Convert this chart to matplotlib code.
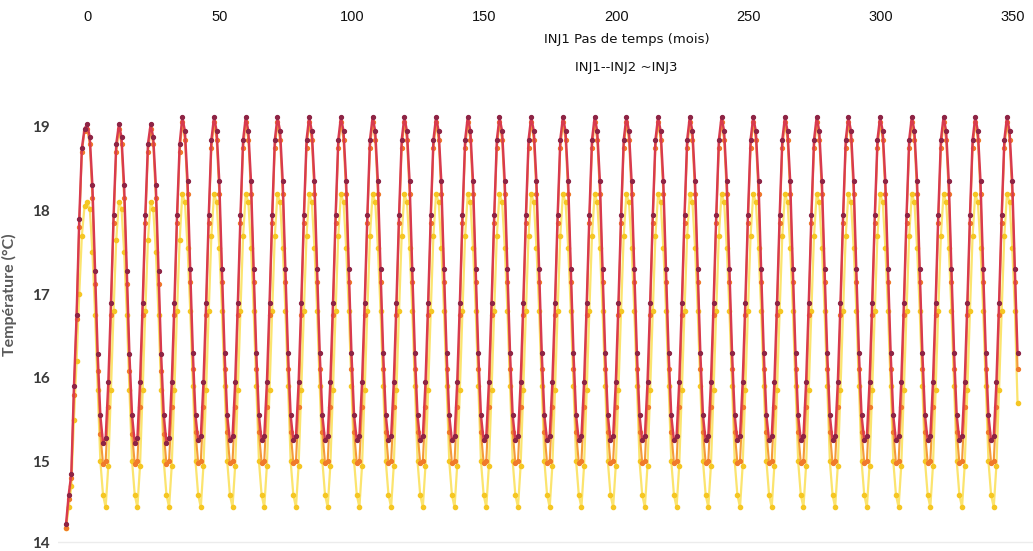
import numpy as np
import matplotlib.pyplot as plt
import matplotlib.transforms as mtransforms

# ---- data (monthly temperatures, °C) ----
start_month = -8.3          # first simulated point lies before tick 0 in the reference
tick_months = [0, 50, 100, 150, 200, 250, 300, 350]
y_ticks = [14, 15, 16, 17, 18, 19]

ramp_inj1 = [14.25, 14.6, 14.85, 15.9, 16.75, 17.9, 18.75, 18.98]
ramp_inj2 = [14.2, 14.55, 14.8, 15.8, 16.7, 17.8, 18.7, 18.95]
ramp_inj3 = [14.2, 14.45, 14.7, 15.5, 16.2, 17.0, 17.7, 18.05]

early_cycle_inj1 = [19.03, 18.88, 18.3, 17.28, 16.28, 15.55, 15.22, 15.28, 15.95, 16.9, 17.95, 18.8]
early_cycle_inj2 = [18.98, 18.8, 18.15, 17.12, 16.08, 15.33, 14.97, 15.0, 15.65, 16.75, 17.85, 18.7]
early_cycle_inj3 = [18.1, 18.02, 17.5, 16.75, 15.85, 15.0, 14.6, 14.45, 14.95, 15.85, 16.8, 17.65]

cycle_inj1 = [19.12, 18.95, 18.35, 17.3, 16.3, 15.55, 15.25, 15.3, 15.95, 16.9, 17.95, 18.85]
cycle_inj2 = [19.06, 18.85, 18.2, 17.15, 16.1, 15.35, 14.98, 15.0, 15.65, 16.75, 17.85, 18.75]
cycle_inj3 = [18.2, 18.1, 17.55, 16.8, 15.9, 15.0, 14.6, 14.45, 14.95, 15.85, 16.8, 17.7]

tail_inj1 = [19.12, 18.95, 18.35, 17.3, 16.3]
tail_inj2 = [19.06, 18.85, 18.2, 17.15, 16.1]
tail_inj3 = [18.2, 18.1, 17.55, 16.8, 15.7]

n_early_cycles = 3
n_steady_cycles = 26

inj1 = ramp_inj1 + early_cycle_inj1 * n_early_cycles + cycle_inj1 * n_steady_cycles + tail_inj1
inj2 = ramp_inj2 + early_cycle_inj2 * n_early_cycles + cycle_inj2 * n_steady_cycles + tail_inj2
inj3 = ramp_inj3 + early_cycle_inj3 * n_early_cycles + cycle_inj3 * n_steady_cycles + tail_inj3
months = start_month + np.arange(len(inj1))

# ---- figure ----
fig = plt.figure(figsize=(10.33, 5.51), dpi=100)
ax = fig.add_axes([0.0561, 0.0033, 0.9439, 0.8118])

ax.plot(months, inj3, color='#fbe46e', lw=1.6, marker='o', ms=3.0,
        mfc='#f5c623', mec='#f5c623', zorder=2)
ax.plot(months, inj2, color='#f39a3a', lw=1.5, marker='o', ms=2.8,
        mfc='#f07a2a', mec='#f07a2a', zorder=3)
ax.plot(months, inj1, color='#d83a4e', lw=1.7, marker='o', ms=2.8,
        mfc='#8e2445', mec='#8e2445', zorder=4)

ax.axhline(14.04, color='#ececec', lw=1.0, zorder=1)

ax.set_xlim(-11.35, 357.55)
ax.set_ylim(13.95, 19.3)

for s in ax.spines.values():
    s.set_visible(False)

ax.xaxis.tick_top()
ax.set_xticks(tick_months)
ax.set_xticklabels([str(t) for t in tick_months], family='Liberation Sans', fontsize=10.5, color='#111111')
ax.tick_params(axis='x', length=0, pad=56)

ax.set_yticks(y_ticks)
ax.set_yticklabels([str(t) for t in y_ticks], family='Lato', fontweight='bold', fontsize=11, color='#3a3a3a')
ax.tick_params(axis='y', length=0, pad=6)
lab14 = ax.get_yticklabels()[0]
lab14.set_transform(lab14.get_transform() + mtransforms.ScaledTranslation(0, 3 / 100, fig.dpi_scale_trans))

ax.set_ylabel('Température (°C)', family='Lato', fontweight='bold', fontsize=11.5, color='#5a5a5a')
ax.yaxis.set_label_coords(-0.042, 0.568)

fig.text(627 / 1033, 1 - 40 / 551, 'INJ1 Pas de temps (mois)', ha='center', va='center',
         family='DejaVu Sans', fontsize=9.5, color='#111111')
fig.text(626 / 1033, 1 - 67 / 551, 'INJ1--INJ2 ~INJ3', ha='center', va='center',
         family='DejaVu Sans', fontsize=9.5, color='#111111')

fig.savefig('out.png', dpi=100)
